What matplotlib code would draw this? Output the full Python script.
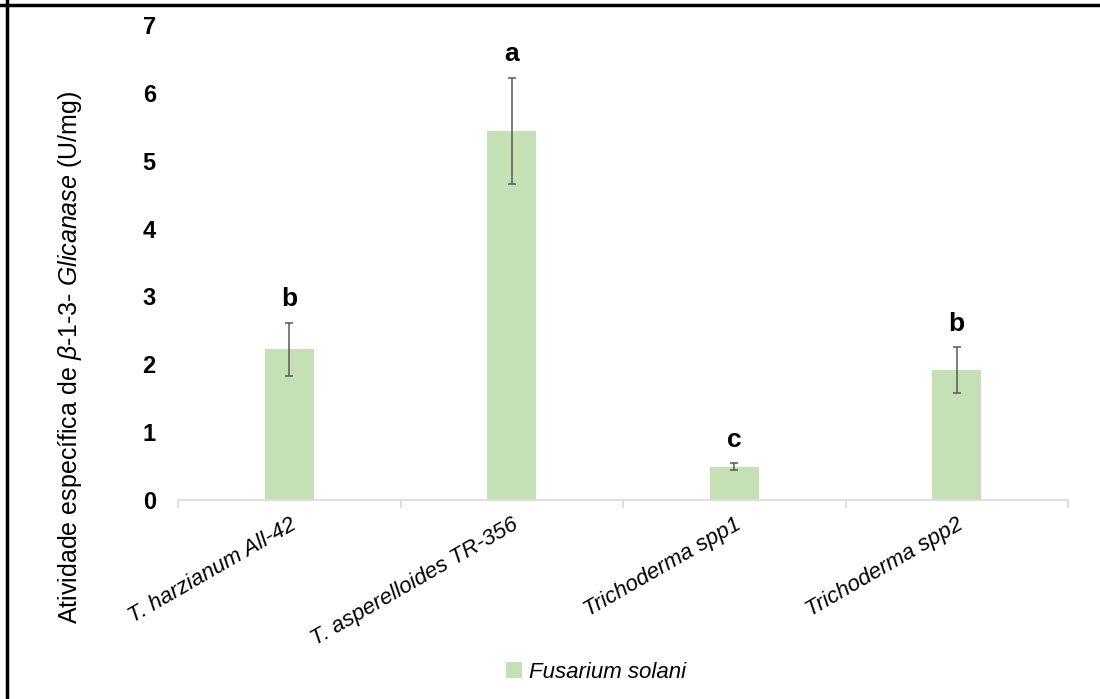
import matplotlib
matplotlib.use("Agg")

import matplotlib.pyplot as plt
from matplotlib.lines import Line2D
import numpy as np

# data
strains = ["T. harzianum All-42", "T. asperelloides TR-356", "Trichoderma spp1", "Trichoderma spp2"]
activity = [2.22, 5.44, 0.49, 1.91]
errors = [0.39, 0.78, 0.05, 0.34]
letters = ["b", "a", "c", "b"]
series_name = "Fusarium solani"

plt.rcParams["font.family"] = ["Liberation Sans", "DejaVu Sans"]
plt.rcParams["mathtext.fontset"] = "custom"
plt.rcParams["mathtext.rm"] = "Liberation Sans"
plt.rcParams["mathtext.it"] = "Liberation Sans:italic"

bar_color = "#c5e0b4"
axis_gray = "#d9d9d9"

fig = plt.figure(figsize=(11, 6.99), dpi=100)
ax = fig.add_axes([178 / 1100, 199 / 699, 890 / 1100, 475 / 699])

x = np.arange(len(strains))
ax.bar(x, activity, width=0.22, color=bar_color, label=series_name, zorder=2)
ax.errorbar(x, activity, yerr=errors, fmt="none", ecolor="#595959",
            elinewidth=1.1, capsize=3, capthick=1.1, zorder=3)

# significance letters above the error bars
for xi, v, e, lt in zip(x, activity, errors, letters):
    ax.annotate(lt, (xi, v + e), xytext=(0, 17), textcoords="offset points",
                ha="center", va="center", fontsize=19, fontweight="bold")

ax.set_xlim(-0.5, len(strains) - 0.5)
ax.set_ylim(0, 7)
ax.set_yticks(range(0, 8))
ax.tick_params(axis="y", length=0, pad=16, labelsize=17)
for t in ax.get_yticklabels():
    t.set_fontweight("bold")

ax.set_xticks(x)
ax.set_xticklabels(strains, rotation=30, ha="right", rotation_mode="anchor",
                   fontsize=16, style="italic")
ax.tick_params(axis="x", length=0, pad=10)
ax.set_xticks(np.arange(-0.5, len(strains), 1.0), minor=True)
ax.tick_params(axis="x", which="minor", length=6, color=axis_gray, width=1.2)

for s in ["left", "right", "top"]:
    ax.spines[s].set_visible(False)
ax.spines["bottom"].set_color(axis_gray)
ax.spines["bottom"].set_linewidth(1.2)

fig.text(70 / 1100, 1 - 357 / 699,
         r"Atividade específica de $\mathit{\beta}$-$\mathit{1}$-$\mathit{3}$- $\mathit{Glicanase}$ (U/mg)",
         rotation=90, ha="center", va="center", fontsize=18)

leg = fig.legend(loc="center", bbox_to_anchor=(596 / 1100, 1 - 672 / 699), frameon=False,
                 handlelength=0.7, handleheight=0.7, handletextpad=0.3,
                 prop={"size": 16, "style": "italic"})

# outer frame: only top and left edges are visible in the reference
fig.add_artist(Line2D([0, 1], [1 - 5 / 699, 1 - 5 / 699], transform=fig.transFigure,
                      color="black", linewidth=2.5))
fig.add_artist(Line2D([7 / 1100, 7 / 1100], [0, 1], transform=fig.transFigure,
                      color="black", linewidth=2.5))

fig.savefig("out.png", dpi=100)
